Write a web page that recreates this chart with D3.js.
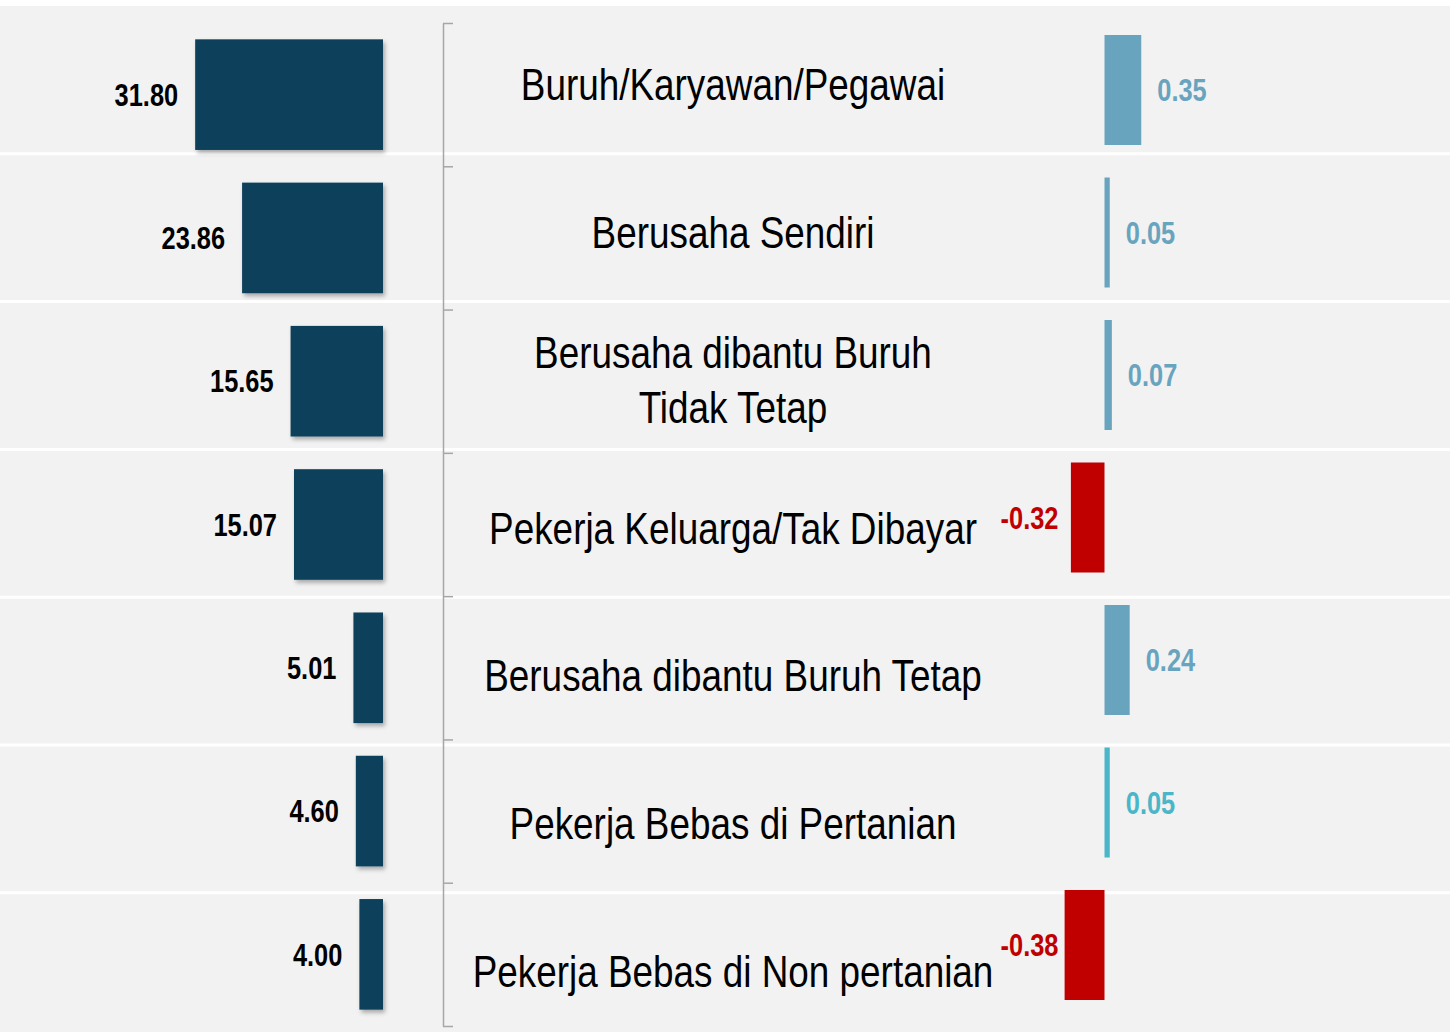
<!DOCTYPE html>
<html lang="id">
<head>
<meta charset="utf-8">
<style>
html, body {
    margin: 0;
    padding: 0;
    background: #ffffff;
}

svg {
    display: block;
}

/* no Arial Narrow here: Liberation Sans squeezed to 82% */
.narrow {
    font-family: "Liberation Sans", Arial, sans-serif;
}
</style>
</head>
<body>
<div id="stage"></div>

<script src="https://cdn.jsdelivr.net/npm/d3@7/dist/d3.min.js"></script>
<script>

// status pekerjaan
var categories = [
    "Buruh/Karyawan/Pegawai",
    "Berusaha Sendiri",
    "Berusaha dibantu Buruh Tidak Tetap",
    "Pekerja Keluarga/Tak Dibayar",
    "Berusaha dibantu Buruh Tetap",
    "Pekerja Bebas di Pertanian",
    "Pekerja Bebas di Non pertanian"
];

// baris label, kategori 3 dipecah dua
var labelLines = [
    ["Buruh/Karyawan/Pegawai"],
    ["Berusaha Sendiri"],
    ["Berusaha dibantu Buruh", "Tidak Tetap"],
    ["Pekerja Keluarga/Tak Dibayar"],
    ["Berusaha dibantu Buruh Tetap"],
    ["Pekerja Bebas di Pertanian"],
    ["Pekerja Bebas di Non pertanian"]
];

// persentase (kiri)
var shares = [31.80, 23.86, 15.65, 15.07, 5.01, 4.60, 4.00];

// perubahan (kanan)
var changes = [0.35, 0.05, 0.07, -0.32, 0.24, 0.05, -0.38];

var changeColors = ["#69a4bf", "#69a4bf", "#69a4bf", "#c00000", "#69a4bf", "#4bb6c8", "#c00000"];

var W = 1450, H = 1032;
var squeeze = 0.82;

function narrowAt(x, y) {
    return "translate(" + x + "," + y + ") scale(" + squeeze + ",1)";
}

var svg = d3.select("#stage").append("svg")
    .attr("width", W)
    .attr("height", H);

var defs = svg.append("defs");
var shadow = defs.append("filter")
    .attr("id", "shadow")
    .attr("x", "-20%").attr("y", "-20%")
    .attr("width", "150%").attr("height", "150%");
shadow.append("feDropShadow")
    .attr("dx", 2).attr("dy", 3)
    .attr("stdDeviation", 2)
    .attr("flood-color", "#000")
    .attr("flood-opacity", 0.3);

// background rows
var rowTop = 6, rowStep = 147.8;
var yRow = d3.scaleBand()
    .domain(categories)
    .range([rowTop, rowTop + rowStep * categories.length]);

svg.append("rect")
    .attr("x", 0).attr("y", rowTop)
    .attr("width", W).attr("height", H - rowTop)
    .attr("fill", "#f2f2f2");

svg.selectAll(".sep")
    .data(categories.slice(1))
    .enter()
    .append("line")
    .attr("class", "sep")
    .attr("x1", 0).attr("x2", W)
    .attr("y1", function(d){ return yRow(d); })
    .attr("y2", function(d){ return yRow(d); })
    .attr("stroke", "#ffffff")
    .attr("stroke-width", 3);

// left chart
var yL = d3.scaleBand()
    .domain(categories)
    .range([23, 1026])
    .paddingInner(0.228)
    .paddingOuter(0.114);

var xL = d3.scaleLinear()
    .domain([0, 32])
    .range([383, 383 - 189]);

svg.selectAll(".barL")
    .data(shares)
    .enter()
    .append("rect")
    .attr("class", "barL")
    .attr("x", function(d){ return xL(d); })
    .attr("y", function(d, i){ return yL(categories[i]); })
    .attr("width", function(d){ return xL(0) - xL(d); })
    .attr("height", yL.bandwidth())
    .attr("fill", "#10405a")
    .attr("filter", "url(#shadow)");

svg.selectAll(".lblL")
    .data(shares)
    .enter()
    .append("text")
    .attr("class", "lblL narrow")
    .attr("transform", function(d, i){
        return narrowAt(xL(d) - 17, yL(categories[i]) + yL.bandwidth() / 2);
    })
    .attr("dy", "0.36em")
    .attr("text-anchor", "end")
    .attr("font-size", 31)
    .attr("font-weight", "bold")
    .attr("fill", "#000")
    .text(function(d){ return d.toFixed(2); });

// category axis
var yAxisScale = d3.scaleLinear()
    .domain([0, categories.length])
    .range([23, 1026]);

svg.append("g")
    .attr("transform", "translate(443,0)")
    .call(d3.axisRight(yAxisScale)
        .tickValues(d3.range(categories.length + 1))
        .tickSize(10)
        .tickSizeOuter(0)
        .tickFormat(""))
    .call(function(g){
        g.selectAll("path, line").attr("stroke", "#a6a6a6").attr("stroke-width", 1.5);
    });

// category labels
var lineH = 55;
var catText = svg.selectAll(".cat")
    .data(labelLines)
    .enter()
    .append("text")
    .attr("class", "cat narrow")
    .attr("transform", function(d, i){
        return narrowAt(733, yRow(categories[i]) + yRow.bandwidth() / 2 + 4);
    })
    .attr("text-anchor", "middle")
    .attr("font-size", 45)
    .attr("fill", "#000");

catText.each(function(lines){
    var t = d3.select(this);
    lines.forEach(function(s, k){
        t.append("tspan")
            .attr("x", 0)
            .attr("y", (k - (lines.length - 1) / 2) * lineH)
            .attr("dy", "0.36em")
            .text(s);
    });
});

// right chart
var yR = d3.scaleBand()
    .domain(categories)
    .range([18.75, 1016.25])
    .paddingInner(0.228)
    .paddingOuter(0.114);

var xR = d3.scaleLinear()
    .domain([-0.4, 0.4])
    .range([1104.5 - 42, 1104.5 + 42]);

svg.selectAll(".barR")
    .data(changes)
    .enter()
    .append("rect")
    .attr("class", "barR")
    .attr("x", function(d){ return Math.min(xR(0), xR(d)); })
    .attr("y", function(d, i){ return yR(categories[i]); })
    .attr("width", function(d){ return Math.abs(xR(d) - xR(0)); })
    .attr("height", yR.bandwidth())
    .attr("fill", function(d, i){ return changeColors[i]; });

svg.selectAll(".lblR")
    .data(changes)
    .enter()
    .append("text")
    .attr("class", "lblR narrow")
    .attr("transform", function(d, i){
        var x = d >= 0 ? xR(d) + 16 : xR(0) - 46;
        return narrowAt(x, yR(categories[i]) + yR.bandwidth() / 2);
    })
    .attr("dy", "0.36em")
    .attr("text-anchor", function(d){ return d >= 0 ? "start" : "end"; })
    .attr("font-size", 31)
    .attr("font-weight", "bold")
    .attr("fill", function(d, i){ return changeColors[i]; })
    .text(function(d){ return d.toFixed(2); });

</script>
</body>
</html>
